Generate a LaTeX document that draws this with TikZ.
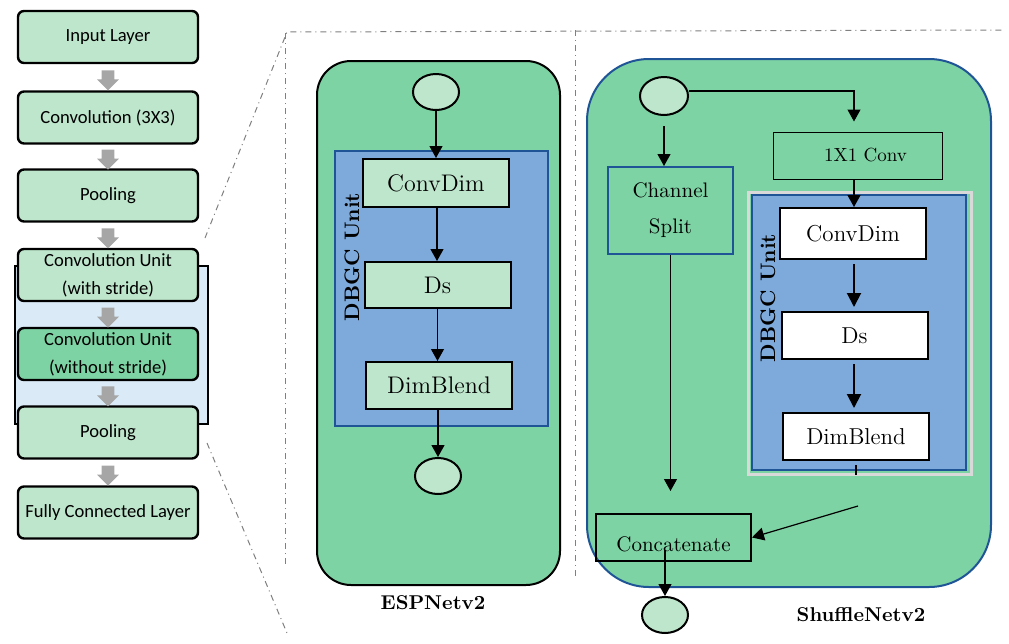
\documentclass[tikz,border=0pt]{standalone}
\usepackage{fontspec}
\newfontfamily\carlito{Carlito}
\usetikzlibrary{positioning,arrows.meta,calc,shapes.geometric,shapes.arrows}

\definecolor{boxgreen}{RGB}{190,230,204}
\definecolor{panelgreen}{RGB}{126,211,164}
\definecolor{unitblue}{RGB}{126,170,219}
\definecolor{edgeblue}{RGB}{31,84,150}
\definecolor{bandblue}{RGB}{218,234,247}
\definecolor{arrowgrey}{RGB}{166,166,166}

\tikzset{
  layer/.style={draw,line width=1.2pt,fill=boxgreen,rounded corners=3pt,minimum width=90pt,minimum height=26pt,
    inner sep=1pt,align=center,font=\carlito\fontsize{9.3}{14}\selectfont},
  greyarr/.style={single arrow,fill=arrowgrey,draw=none,rotate=-90,minimum height=10pt,minimum width=10.5pt,
    inner sep=3pt,single arrow head extend=2.3pt},
  blk/.style={draw,line width=1pt,fill=boxgreen,minimum width=73pt,minimum height=24pt,inner sep=1pt,
    font=\fontsize{12}{14}\selectfont},
  port/.style={ellipse,draw,line width=1pt,fill=boxgreen,minimum width=23pt,minimum height=18pt,inner sep=0pt},
  panel/.style={draw,line width=1pt,fill=panelgreen,inner sep=0pt},
  unit/.style={draw=edgeblue,line width=1pt,fill=unitblue,inner sep=0pt},
  unitname/.style={rotate=90,font=\bfseries\fontsize{10.5}{12}\selectfont},
  flow/.style={line width=0.6pt,-{Triangle[length=6pt,width=6.5pt]}},
  boldflow/.style={line width=1pt,-{Triangle[length=7pt,width=7pt]}},
  zoomline/.style={gray,line width=0.5pt,dash dot},
  netname/.style={font=\bfseries\fontsize{10}{12}\selectfont},
}

\begin{document}
\begin{tikzpicture}[x=0.5pt,y=-0.5pt]
\useasboundingbox (0,0) rectangle (1009,644);

% backbone on the left
\node[draw,line width=1.2pt,fill=bandblue,minimum width=96.5pt,minimum height=79pt] (band) at (111.5,345) {};
\node[layer] (inp) at (108,37) {Input Layer};
\node[layer] (conv) at (108,117.5) {Convolution (3X3)};
\node[layer] (pool1) at (108,195.5) {Pooling};
\node[layer] (cuS) at (108,275) {Convolution Unit\\(with stride)};
\node[layer,fill=panelgreen] (cuN) at (108,354) {Convolution Unit\\(without stride)};
\node[layer] (pool2) at (108,432.5) {Pooling};
\node[layer] (fc) at (108,512.5) {Fully Connected Layer};
\foreach \a/\b in {inp/conv,conv/pool1,pool1/cuS,cuS/cuN,cuN/pool2,pool2/fc}
  \node[greyarr] at ($(\a.south)!.5!(\b.north)$) {};

% zoom guides
\coordinate (zTop) at (287,32);
\coordinate (zBot) at (287,633);
\draw[zoomline] (205,238) -- (zTop) -- (1003,30);
\draw[zoomline] (207,443) -- (zBot);
\draw[zoomline] (285,33) -- (285,567);
\draw[zoomline] (575,30) -- (575,577);

% ESPNetv2
\node[panel,rounded corners=17pt,minimum width=121.5pt,minimum height=262pt] (esp) at (438.5,323) {};
\node[unit,minimum width=106.5pt,minimum height=137.5pt] (espunit) at (441.5,288.5) {};
\node[unitname] at (352,257) {DBGC Unit};
\node[port] (espin) at (436,92) {};
\node[blk] (espconv) at (436,183) {ConvDim};
\node[blk,minimum height=23pt] (espds) at (437.5,285) {Ds};
\node[blk,minimum height=23.5pt] (espblend) at (439,385.5) {DimBlend};
\node[port] (espout) at (438,476) {};
\draw[flow] (espin) -- (espin |- espconv.north);
\draw[flow] (espconv.south) ++(1,0) coordinate (c1) -- (c1 |- espds.north);
\draw[flow] (espds.south) coordinate (c2) -- (c2 |- espblend.north);
\draw[flow] (espblend.south) ++(-1,0) coordinate (c3) -- (c3 |- espout.north);
\node[netname] (espname) at (433,603) {ESPNetv2};

% ShuffleNetv2
\node[panel,draw=edgeblue,rounded corners=31pt,minimum width=202pt,minimum height=264pt] (shf) at (789,323) {};
\node[port,minimum width=24pt,minimum height=19pt] (shin) at (664,96) {};
\node[draw,line width=0.5pt,minimum width=84.5pt,minimum height=23.5pt,font=\fontsize{9.5}{12}\selectfont] (conv1) at (857.5,155.5) {\hspace{8pt}1X1 Conv};
\node[draw=edgeblue,line width=1pt,minimum width=62.5pt,minimum height=43.5pt,align=center,
  font=\fontsize{10.5}{18}\selectfont] (split) at (670.5,210.5) {Channel\\Split};
\node[draw=black!15,line width=1.5pt,minimum width=111.5pt,minimum height=141pt] (frame) at (859.5,333) {};
\node[unit,line width=0.8pt,minimum width=107pt,minimum height=137.5pt] (shunit) at (859,332.5) {};
\node[unitname] at (768,298) {DBGC Unit};
\node[blk,fill=white,minimum height=25.5pt,font=\fontsize{11.5}{14}\selectfont] (shconv) at (853,233.5) {ConvDim};
\node[blk,fill=white,minimum height=23.5pt,font=\fontsize{11.5}{14}\selectfont] (shds) at (854.5,335.5) {Ds};
\node[blk,fill=white,minimum height=23.5pt,font=\fontsize{11.5}{14}\selectfont] (shblend) at (856,436.5) {DimBlend};
\node[draw,line width=1pt,minimum width=77.5pt,minimum height=23.5pt,text height=14pt,text depth=0pt,
  font=\fontsize{10.5}{12}\selectfont] (concat) at (673.5,537.5) {Concatenate};
\node[port] (shout) at (665,615) {};
\coordinate (merge) at (858,506);
\coordinate (drop) at (854,91);
\draw[flow,shorten >=5pt] (shin.east |- drop) -- (drop) -- (drop |- conv1.north);
\draw[flow,shorten <=5pt] (shin) -- (shin |- split.north);
\draw[flow] (drop |- conv1.south) -- (drop |- shconv.north);
\draw[boldflow,shorten <=2pt,shorten >=2pt] (drop |- shconv.south) -- (drop |- shds.north);
\draw[boldflow,shorten <=2pt,shorten >=2pt] (drop |- shds.south) -- (drop |- shblend.north);
\draw[line width=0.6pt] ([yshift=-2pt]shblend.south) -- ++(0,10);
\draw[flow,shorten >=11pt] (split.south) -- (split.south |- concat.north);
\draw[flow] (merge) -- (concat.east);
\draw[flow] ([yshift=-6pt]shout.north |- concat.center) -- (shout.north);
\node[netname] (shfname) at (861,615) {ShuffleNetv2};
\end{tikzpicture}
\end{document}
